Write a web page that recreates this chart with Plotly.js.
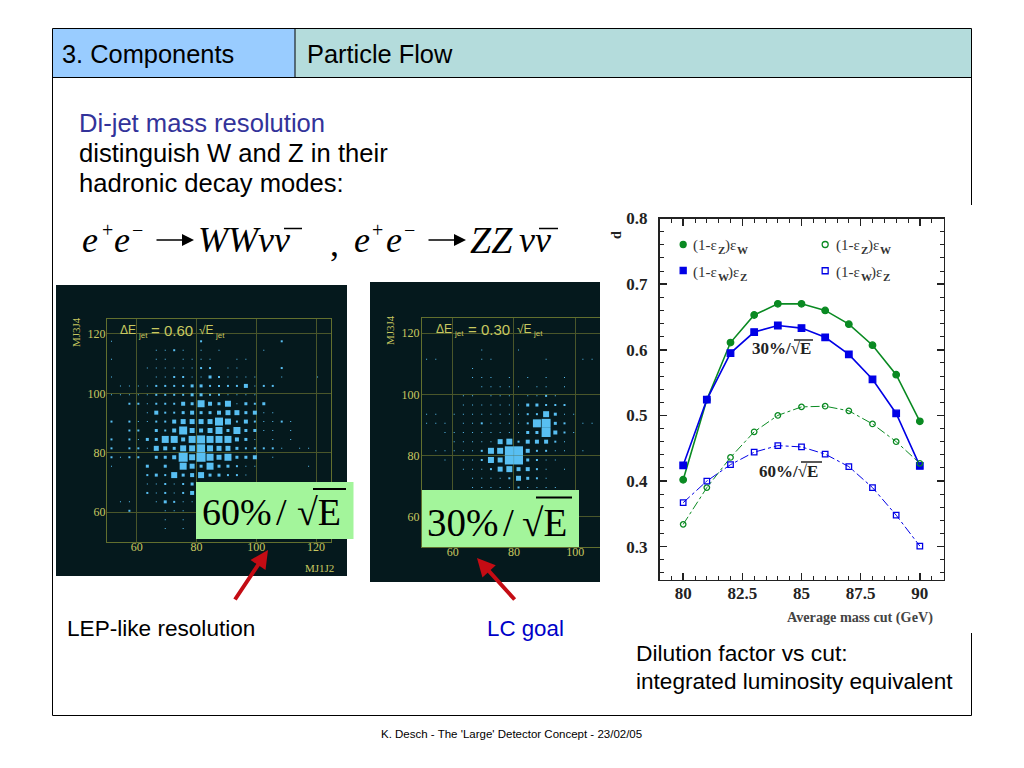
<!DOCTYPE html>
<html><head><meta charset="utf-8">
<script src="https://cdn.plot.ly/plotly-3.0.1.min.js"></script>
<style>html,body{margin:0;padding:0;background:#fff}#c{width:1024px;height:768px}</style>
</head><body><div id="c"></div>
<script>
// ---------- data ----------
const binCentres = [51.5,54.5,57.5,60.5,63.5,66.5,69.5,72.5,75.5,78.5,81.5,84.5,87.5,90.5,93.5,96.5,99.5,102.5,105.5,108.5,111.5,114.5,117.5,120.5];
const rowCentres = [117.5,114.5,111.5,108.5,105.5,102.5,99.5,96.5,93.5,90.5,87.5,84.5,81.5,78.5,75.5,72.5,69.5,66.5,63.5,60.5,57.5,54.5];
const lepCounts = [
[1,0,0,0,0,0,0,0,0,0,2,0,0,0,0,0,0,0,0,2,0,0,0,0],
[0,0,0,0,0,1,1,2,1,0,1,0,1,0,0,0,0,1,0,0,0,0,0,0],
[1,0,0,0,0,1,1,0,1,1,1,1,0,0,1,1,0,0,0,0,0,0,0,0],
[0,0,0,0,1,1,1,1,1,1,2,2,0,1,1,0,0,0,0,2,0,0,0,0],
[1,0,0,0,0,1,1,2,2,1,1,3,2,1,1,1,1,0,0,1,0,0,0,1],
[0,1,1,1,1,2,2,2,2,3,3,2,2,2,2,4,1,2,2,0,0,0,0,0],
[1,1,1,1,1,2,2,2,2,3,3,2,2,1,1,1,1,0,0,0,0,0,0,0],
[0,0,2,2,1,2,2,2,4,3,7,4,3,6,1,3,2,3,0,0,0,0,0,0],
[0,0,0,0,1,4,2,2,3,4,3,3,4,5,5,3,4,1,1,0,0,0,0,0],
[2,0,2,1,1,2,2,4,5,5,5,5,8,6,2,4,2,1,1,2,1,0,0,0],
[0,0,2,2,0,3,2,4,8,5,4,5,7,3,7,3,3,1,1,0,1,0,0,0],
[2,0,2,1,3,3,7,7,4,7,8,7,7,7,4,3,1,0,1,0,1,0,0,0],
[2,0,2,2,1,5,4,3,6,6,8,6,5,5,3,2,2,2,2,1,0,1,1,0],
[2,1,2,2,0,3,3,4,9,6,9,7,5,7,3,3,4,0,1,0,0,0,0,0],
[1,0,0,0,3,0,3,0,7,5,3,7,3,3,2,1,1,0,0,0,0,0,1,0],
[0,0,0,0,2,3,2,6,3,4,6,3,3,2,2,1,0,0,0,0,0,0,0,0],
[0,0,0,0,1,1,2,1,2,3,0,0,0,0,0,0,0,0,0,0,0,0,0,0],
[0,0,0,0,2,1,2,1,2,4,0,0,0,0,0,0,0,0,0,0,0,0,0,0],
[0,1,1,0,0,1,3,2,1,1,0,0,0,0,0,0,0,0,0,0,0,0,0,0],
[0,0,2,0,0,0,1,1,1,0,0,0,0,0,0,0,0,0,0,0,0,0,0,0],
[0,0,0,0,0,0,1,0,1,0,0,0,0,0,0,0,0,0,0,0,0,0,0,0],
[0,0,0,0,0,0,1,0,1,0,0,0,0,0,0,0,0,0,0,0,0,0,0,0]];
const lcCounts = [
[0,0,0,0,0,0,0,0,0,0,0,0,0,0,0,0,0,0,0,0,0,0,0,0],
[0,0,0,0,0,0,1,0,0,0,1,0,0,0,0,0,0,0,0,0,0,0,0,0],
[1,1,0,0,0,0,1,1,0,0,0,0,0,1,0,0,0,1,1,0,0,0,0,0],
[0,0,0,0,0,1,0,0,0,0,0,0,0,0,0,0,0,0,0,0,0,0,0,0],
[0,0,0,0,0,1,1,1,0,1,0,1,0,1,0,1,0,0,0,0,0,0,0,0],
[0,0,0,0,0,0,1,1,1,1,1,0,1,1,0,1,0,0,0,0,0,0,0,0],
[0,0,0,0,1,1,0,1,1,1,0,1,1,2,1,0,0,0,0,0,0,0,0,0],
[0,0,0,0,1,1,1,1,1,1,1,3,3,2,2,2,0,0,0,0,0,0,0,0],
[1,1,0,1,1,1,1,1,1,1,1,2,2,6,3,1,1,0,0,0,0,0,0,0],
[1,1,1,0,1,1,2,1,1,1,1,2,8,9,3,2,0,1,1,0,0,0,0,0],
[0,0,1,1,1,1,1,1,1,1,1,3,3,9,4,2,1,0,0,1,0,0,0,0],
[0,0,0,1,1,1,1,1,5,6,2,4,4,4,2,1,0,0,0,0,0,0,0,0],
[0,1,1,1,1,1,2,6,6,9,9,4,2,2,1,1,0,1,0,0,0,0,0,0],
[0,0,1,0,1,1,2,6,5,9,9,3,2,1,1,0,0,0,0,0,0,0,0,0],
[0,0,0,0,1,1,1,2,5,6,4,4,2,1,0,1,0,0,0,0,0,0,0,0],
[0,0,0,0,0,1,1,1,1,2,5,3,2,1,0,0,0,0,0,0,0,0,0,0],
[0,0,0,0,0,1,1,1,1,1,2,1,1,1,1,0,0,0,0,0,0,0,0,0],
[0,0,0,0,0,0,0,0,0,0,0,0,0,0,0,0,0,0,0,0,0,0,0,0],
[0,0,0,0,0,0,0,0,0,0,0,0,0,0,0,0,0,0,0,0,0,0,0,0],
[0,0,0,0,0,0,0,0,0,0,0,0,0,0,0,0,0,0,0,0,0,0,0,0],
[0,0,0,0,0,0,0,0,0,0,0,0,0,0,0,0,0,0,0,0,0,0,0,0],
[0,0,0,0,0,0,0,0,0,0,0,0,0,0,0,0,0,0,0,0,0,0,0,0]];
const massCut = [80,81,82,83,84,85,86,87,88,89,90];
const greenFilled = [0.402,0.524,0.611,0.653,0.670,0.670,0.660,0.639,0.607,0.562,0.491];
const blueFilled  = [0.424,0.524,0.595,0.627,0.637,0.633,0.619,0.593,0.555,0.503,0.423];
const greenOpen   = [0.334,0.390,0.436,0.475,0.500,0.513,0.514,0.507,0.487,0.460,0.427];
const blueOpen    = [0.367,0.400,0.425,0.444,0.454,0.452,0.441,0.422,0.390,0.348,0.301];

// ---------- helpers ----------
const W=1024,H=768;
const px=x=>x/W, py=y=>1-y/H;
const SANS='"Liberation Sans",Arial,sans-serif', SERIF='"Liberation Serif","Times New Roman",serif';
const GREEN='#0a8a22', BLUE='#0000e6', OLIVE='#626f2e', TICK='#c8c860', CELL='#58bff2';

function boxes(counts, xa, ya){
  const x=[],y=[],s=[];
  counts.forEach((row,r)=>row.forEach((v,c)=>{ if(v>0){x.push(binCentres[c]);y.push(rowCentres[r]);s.push(v);} }));
  return {type:'scatter',mode:'markers',x,y,xaxis:xa,yaxis:ya,cliponaxis:true,hoverinfo:'skip',
    marker:{symbol:'square',size:s,color:CELL,opacity:1,line:{width:0}}};
}
function curve(ys,color,sym,dash,lw,ms){
  return {type:'scatter',mode:'lines+markers',x:massCut,y:ys,xaxis:'x3',yaxis:'y3',
    line:{color,width:lw,dash},marker:{symbol:sym,size:ms,color,line:{color,width:1.3}}};
}
function legendMark(x,y,color,sym){
  return {type:'scatter',mode:'markers',x:[x],y:[y],xaxis:'x3',yaxis:'y3',
    marker:{symbol:sym,size:6,color,line:{color,width:1.3}}};
}
function text(t,x,y,size,color,opt){
  opt=opt||{};
  return Object.assign({xref:'paper',yref:'paper',x:px(x),y:py(y),text:t,showarrow:false,
    xanchor:'left',yanchor:'middle',font:Object.assign({family:opt.family||SANS,size,color},opt.fontx||{}),borderpad:0,borderwidth:0},
    opt.angle!==undefined?{textangle:opt.angle,xanchor:'center'}:{});
}
const ser=(t,x,y,size,color,fontx,angle)=>text(t,x,y,size,color,{family:SERIF,fontx,angle});
const ITAL={style:'italic'}, BOLD={weight:'bold'};
function arrowLine(x0,x1,y){
  return {xref:'paper',yref:'paper',x:px(x1),y:py(y),axref:'pixel',ayref:'pixel',ax:x0-x1,ay:0,text:'',showarrow:true,arrowhead:2,arrowsize:1.6,arrowwidth:1.5,arrowcolor:'#000'};
}
function rect(x0,y0,x1,y1,fill,lineColor,layer){
  return {type:'rect',xref:'paper',yref:'paper',x0:px(x0),x1:px(x1),y0:py(y0),y1:py(y1),
    fillcolor:fill,line:{color:lineColor||fill,width:lineColor?1:0},layer:layer||'above'};
}
function hline(x0,x1,y,color,w){
  return {type:'line',xref:'paper',yref:'paper',x0:px(x0),x1:px(x1),y0:py(y),y1:py(y),line:{color,width:w},layer:'above'};
}
function scatterAxis(range,domain,anchor,standoff){
  return {domain,range,anchor,tick0:60,dtick:20,ticks:'',showgrid:true,gridcolor:'#4a562a',gridwidth:1,zeroline:false,
    showline:true,mirror:true,linecolor:OLIVE,linewidth:1,tickfont:{family:SERIF,size:12,color:TICK},automargin:false,ticklabelstandoff:standoff};
}
const inTicks=(dt,mdt,standoff)=>({ticks:'inside',ticklen:7,tickwidth:1.5,tickcolor:'#222',dtick:dt,mirror:'allticks',showline:true,linecolor:'#222',linewidth:1.5,
   showgrid:false,zeroline:false,tickfont:{family:SERIF,size:17,color:'#222',weight:'bold'},automargin:false,ticklabelstandoff:standoff,
   minor:{dtick:mdt,ticks:'inside',ticklen:4,tickwidth:1,tickcolor:'#222',showgrid:false}});

// legend entry drawn from separately placed pieces so that each carries its own size
function legendEntry(x,y,first,second){
  const firstW=first==='W'?10:7;
  return [
    ser('(1-ε',x,y,15,'#333'),
    ser(first,x+25,y+5,11,'#333',BOLD),
    ser(')ε',x+25+firstW,y,15,'#333'),
    ser(second,x+25+firstW+12,y+5,11,'#333',BOLD)
  ];
}
function resLabel(x,y,val,xs){
  return [
    text('ΔE',x,y,12,TICK),
    text('jet',xs[0],y+5,8,TICK),
    text('= '+val,xs[1],y,15,TICK),
    text('√E',xs[2],y,12,TICK),
    text('jet',xs[3],y+5,8,TICK)
  ];
}

const traces=[
  boxes(lepCounts,'x','y'),
  boxes(lcCounts,'x2','y2'),
  curve(greenFilled,GREEN,'circle','solid',1.6,6.5),
  curve(blueFilled,BLUE,'square','solid',1.6,6.5),
  curve(greenOpen,GREEN,'circle-open','dashdot',1,5.5),
  curve(blueOpen,BLUE,'square-open','dashdot',1,5.5),
  legendMark(80,0.7604,GREEN,'circle'),
  legendMark(80,0.7208,BLUE,'square'),
  legendMark(86,0.7604,GREEN,'circle-open'),
  legendMark(86,0.7204,BLUE,'square-open')
];

const annotations=[
  text('3. Components',62,54,25.4,'#000'),
  text('Particle Flow',307,54,25.4,'#000'),
  text('Di-jet mass resolution',79,122.5,25.6,'#33339a'),
  text('distinguish W and Z in their',79,153.5,25.6,'#000'),
  text('hadronic decay modes:',79,183.5,25.6,'#000'),
  ser('e',82,240,36,'#000',ITAL), ser('+',102,230,20,'#000'), ser('e',114,240,36,'#000',ITAL), ser('−',132,230,20,'#000'),
  arrowLine(155,194,240),
  ser('WWνν',198,240,36,'#000',ITAL),
  ser(',',330,244,36,'#000'),
  ser('e',354,240,36,'#000',ITAL), ser('+',372,230,20,'#000'), ser('e',386,240,36,'#000',ITAL), ser('−',404,230,20,'#000'),
  arrowLine(427,466,240),
  ser('ZZ',470,240,38,'#000',ITAL),
  ser('νν',519,240,36,'#000',ITAL),
  text('LEP-like resolution',67,628,22.6,'#000'),
  text('LC goal',487,628,22.3,'#0000c8'),
  text('Dilution factor vs cut:',636,653,22.8,'#000'),
  text('integrated luminosity equivalent',636,681,22.6,'#000'),
  text("K. Desch - The 'Large' Detector Concept - 23/02/05",381,734,11.5,'#000'),
  ...resLabel(120,330,'0.60',[138,151,199,215]),
  ser('MJ3J4',76,332,11,TICK,null,-90),
  ser('MJ1J2',305,568,11,TICK),
  ...resLabel(436,329,'0.30',[454,468,517,533]),
  ser('MJ3J4',390,330,11,TICK,null,-90),
  ser('60%',202,512,38,'#000'), ser('/',276,512,38,'#000'), ser('√E',297,512,38,'#000'),
  ser('30%',427,522,39,'#000'), ser('/',503,522,39,'#000'), ser('√E',522,522,39,'#000'),
  ser('30%/√E',752,349,17,'#222',BOLD),
  ser('60%/√E',759,471,17,'#222',BOLD),
  ser('d',617,235,14,'#222',BOLD,-90),
  ser('Average mass cut (GeV)',787,617,14.2,'#444',BOLD),
  ...legendEntry(693,245,'Z','W'),
  ...legendEntry(693,272,'W','Z'),
  ...legendEntry(836,245,'Z','W'),
  ...legendEntry(836,272,'W','Z'),
  {xref:'paper',yref:'paper',x:px(268),y:py(550),axref:'pixel',ayref:'pixel',ax:-34,ay:51,text:'',showarrow:true,arrowhead:2,arrowsize:0.9,arrowwidth:4,arrowcolor:'#c40c14'},
  {xref:'paper',yref:'paper',x:px(477),y:py(558),axref:'pixel',ayref:'pixel',ax:39,ay:43,text:'',showarrow:true,arrowhead:2,arrowsize:0.9,arrowwidth:4,arrowcolor:'#c40c14'}
];

const shapes=[
  rect(53,29,295,77,'#99ccff',null,'below'),
  rect(295,29,971,77,'#b4dcdc',null,'below'),
  rect(52.5,28.5,971.5,715.5,'rgba(0,0,0,0)','#000','below'),
  hline(53,971,77.5,'#000',1),
  {type:'line',xref:'paper',yref:'paper',x0:px(295),x1:px(295),y0:py(29),y1:py(77),line:{color:'#000',width:1},layer:'below'},
  rect(56,285,347,576,'#05191d',null,'below'),
  rect(370,282,600,582,'#05191d',null,'below'),
  rect(600,282,615,582,'#ffffff',null,'above'),
  rect(969,205,974,633,'#ffffff',null,'above'),
  rect(196,482,353.5,539,'#a3f59b',null,'above'),
  rect(422,490,579,547,'#a3f59b',null,'above'),
  hline(313,346,489,'#000',2),
  hline(536,572,497.5,'#000',2),
  hline(794,813,340,'#222',1.5),
  hline(801,822,462,'#222',1.5),
  hline(284,302,228.5,'#000',1.5),
  hline(539,558,228.5,'#000',1.5)
];

const layout={
  width:W,height:H,autosize:false,showlegend:false,margin:{l:0,r:0,t:0,b:0},
  paper_bgcolor:'#fff',plot_bgcolor:'rgba(0,0,0,0)',
  xaxis:scatterAxis([50,125],[px(107),px(331)],'y',-6),
  yaxis:scatterAxis([50,125],[py(542),py(319)],'x',-2),
  xaxis2:scatterAxis([50,112],[px(422),px(612)],'y2',-6),
  yaxis2:scatterAxis([50,125],[py(547),py(318)],'x2',-1),
  xaxis3:Object.assign(inTicks(2.5,0.5,-2),{domain:[px(659.5),px(943.5)],range:[79,91],anchor:'y3',tick0:80}),
  yaxis3:Object.assign(inTicks(0.1,0.02,7),{domain:[py(579.5),py(218.5)],range:[0.25,0.8],anchor:'x3',tick0:0.3}),
  annotations,shapes
};
Plotly.newPlot('c',traces,layout,{displayModeBar:false,staticPlot:true});
</script></body></html>
